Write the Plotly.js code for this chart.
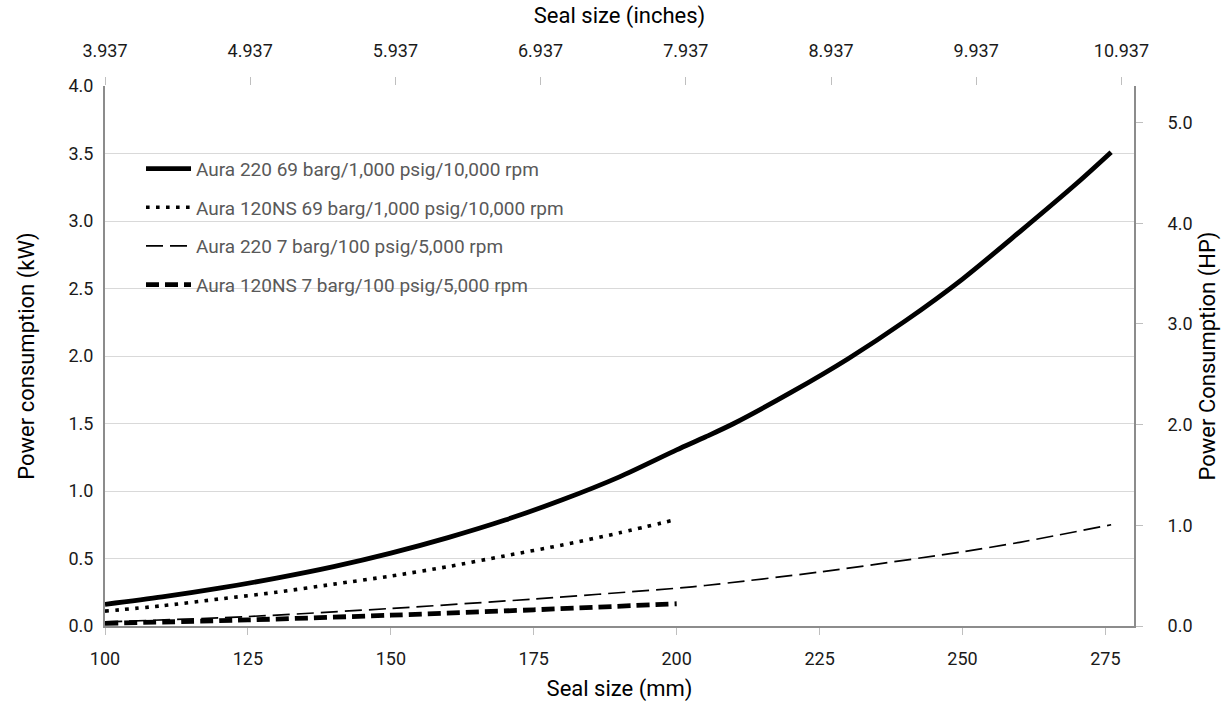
<!DOCTYPE html>
<html>
<head>
<meta charset="utf-8">
<script src="https://cdn.plot.ly/plotly-3.0.1.min.js"></script>
<style>html,body{margin:0;padding:0;background:#fff;}#chart{width:1231px;height:709px;}</style>
</head>
<body>
<div id="chart"></div>
<script>
// Seal size (mm) and power consumption (kW)
const sizeA220hi = [100,110,120,130,140,150,160,170,180,190,200,205,210,220,230,240,250,260,270,276];
const kwA220hi   = [0.16,0.215,0.28,0.355,0.44,0.54,0.655,0.785,0.935,1.105,1.305,1.40,1.50,1.73,1.98,2.26,2.57,2.92,3.28,3.51];
const sizeA120hi = [100,110,120,130,140,150,160,170,180,190,200];
const kwA120hi   = [0.11,0.15,0.20,0.25,0.31,0.37,0.44,0.52,0.60,0.69,0.79];
const sizeA220lo = [100,125,150,175,200,205,225,250,260,276];
const kwA220lo   = [0.03,0.07,0.13,0.20,0.28,0.30,0.40,0.55,0.62,0.75];
const sizeA120lo = [100,125,150,175,200];
const kwA120lo   = [0.02,0.045,0.08,0.12,0.165];
const names = [
  "Aura 220 69 barg/1,000 psig/10,000 rpm",
  "Aura 120NS 69 barg/1,000 psig/10,000 rpm",
  "Aura 220 7 barg/100 psig/5,000 rpm",
  "Aura 120NS 7 barg/100 psig/5,000 rpm"
];
const mmTicks = [100,125,150,175,200,225,250,275];
const inchTicks = [3.937,4.937,5.937,6.937,7.937,8.937,9.937,10.937];
const kwTicks = [0,0.5,1,1.5,2,2.5,3,3.5,4];
const hpTicks = [0,1,2,3,4,5];
const MM_PER_IN = 25.4;
const KW_PER_HP = 0.7457;
const xMin = 100, xMax = 280, yMin = 0, yMax = 4;

const F = 'Roboto, "DejaVu Sans", sans-serif';
const gridC = '#d9d9d9', axC = '#8c8c8c', tickC = '#bfbfbf', txt = '#1a1a1a';

const traces = [
  {x:sizeA220hi, y:kwA220hi, name:names[0], legendgroup:'a', line:{color:'#000', width:4.8, shape:'spline', smoothing:0.8}},
  {x:sizeA120hi, y:kwA120hi, name:names[1], legendgroup:'b', line:{color:'#000', width:3.6, dash:'3.6px,6.4px', shape:'spline', smoothing:0.8}},
  {x:sizeA220lo, y:kwA220lo, name:names[2], legendgroup:'c', line:{color:'#000', width:1.7, dash:'17px,7px', shape:'spline', smoothing:0.8}},
  {x:sizeA120lo, y:kwA120lo, name:names[3], legendgroup:'d', line:{color:'#000', width:4.8, dash:'13px,6px', shape:'spline', smoothing:0.8}}
].map(t => Object.assign({type:'scatter', mode:'lines', hoverinfo:'skip'}, t));

// invisible helper trace for the secondary axes
traces.push({type:'scatter', mode:'lines', x:[xMin/MM_PER_IN, xMax/MM_PER_IN], y:[yMin/KW_PER_HP, yMax/KW_PER_HP],
  xaxis:'x2', yaxis:'y2', showlegend:false, hoverinfo:'skip', line:{color:'rgba(0,0,0,0)', width:0}});

const layout = {
  width:1231, height:709,
  margin:{l:105, r:97, t:86, b:83},
  paper_bgcolor:'#fff', plot_bgcolor:'#fff',
  font:{family:F, color:txt, size:18},
  showlegend:true,
  legend:{x:0.035, y:0.882, xanchor:'left', yanchor:'top', bgcolor:'rgba(0,0,0,0)',
    font:{family:F, size:19, color:'#595959'}, tracegroupgap:11, traceorder:'grouped', itemwidth:45},
  xaxis:{range:[xMin, xMax], tickmode:'array', tickvals:mmTicks,
    showgrid:false, zeroline:false, showline:true, linecolor:axC, linewidth:2,
    ticks:'outside', ticklen:7, tickcolor:tickC, tickwidth:1, ticklabelstandoff:8,
    tickfont:{family:F, size:18, color:txt},
    title:{text:'Seal size (mm)', font:{family:F, size:22, color:'#000'}, standoff:13}},
  xaxis2:{overlaying:'x', side:'top', range:[xMin/MM_PER_IN, xMax/MM_PER_IN], tickmode:'array', tickvals:inchTicks,
    ticktext:inchTicks.map(v=>v.toFixed(3)),
    showgrid:false, zeroline:false, showline:false,
    ticks:'outside', ticklen:8, tickcolor:tickC, tickwidth:1, ticklabelstandoff:13,
    tickfont:{family:F, size:18, color:txt},
    title:{text:'Seal size (inches)', font:{family:F, size:22, color:'#000'}, standoff:10}},
  yaxis:{range:[yMin, yMax], tickmode:'array', tickvals:kwTicks, ticktext:kwTicks.map(v=>v.toFixed(1)),
    showgrid:true, gridcolor:gridC, gridwidth:1, zeroline:false, showline:true, linecolor:axC, linewidth:2,
    ticks:'', ticklabelstandoff:6, tickfont:{family:F, size:18, color:txt},
    title:{text:'Power consumption (kW)', font:{family:F, size:22, color:'#000'}, standoff:28}},
  yaxis2:{overlaying:'y', side:'right', range:[yMin/KW_PER_HP, yMax/KW_PER_HP], tickmode:'array', tickvals:hpTicks,
    ticktext:hpTicks.map(v=>v.toFixed(1)),
    showgrid:false, zeroline:false, showline:true, linecolor:axC, linewidth:2,
    ticks:'outside', ticklen:7, tickcolor:tickC, tickwidth:1, ticklabelstandoff:21,
    tickfont:{family:F, size:18, color:txt},
    title:{text:'Power Consumption (HP)', font:{family:F, size:22, color:'#000'}, standoff:8}}
};

Plotly.newPlot('chart', traces, layout, {displayModeBar:false, staticPlot:true});
</script>
</body>
</html>
